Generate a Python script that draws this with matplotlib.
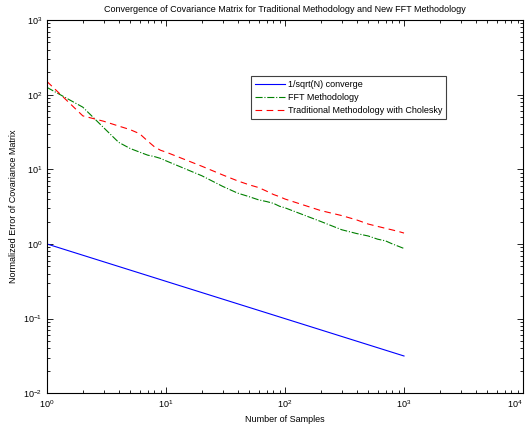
import matplotlib
matplotlib.use("Agg")
import matplotlib.pyplot as plt
from matplotlib.ticker import LogLocator, NullFormatter

plt.rcParams['font.family'] = ['Liberation Sans', 'DejaVu Sans']
plt.rcParams['mathtext.fontset'] = 'custom'
plt.rcParams['mathtext.rm'] = 'Liberation Sans'
plt.rcParams['mathtext.it'] = 'Liberation Sans'
plt.rcParams['mathtext.bf'] = 'Liberation Sans'

# Data
n_ref = [1, 10, 100, 1000]
ref_vals = [1.0, 0.316, 0.1, 0.0316]

n_samples = [1, 2, 3, 4, 5, 6, 7, 8, 9, 10,
             20, 30, 40, 50, 60, 70, 80, 90, 100,
             200, 300, 400, 500, 600, 700, 800, 900, 1000]
fft_err = [125, 68, 36, 23, 19, 17, 15.5, 14.8, 14, 13,
           8.2, 5.9, 4.8, 4.3, 3.9, 3.7, 3.5, 3.2, 3.05,
           2.0, 1.55, 1.38, 1.28, 1.16, 1.1, 1.0, 0.93, 0.87]
trad_err = [150, 52, 44, 38, 34, 30, 24, 20, 18, 17,
            11, 8.4, 7.0, 6.2, 5.7, 5.1, 4.6, 4.3, 4.0,
            2.8, 2.4, 2.1, 1.85, 1.72, 1.62, 1.54, 1.47, 1.4]

labels = ['1/sqrt(N) converge', 'FFT Methodology',
          'Traditional Methodology with Cholesky']

FS = 6.5

fig = plt.figure(figsize=(5.28, 4.28), dpi=100)
ax = fig.add_axes([47/528, 1 - 393.3/428, 476/528, 373.3/428])

ax.loglog(n_ref, ref_vals, color=(0, 0, 1), lw=0.8, linestyle='-', label=labels[0])
ax.loglog(n_samples, fft_err, color=(0, 0.5, 0), lw=0.8, linestyle='-.', label=labels[1])
ax.loglog(n_samples, trad_err, color=(1, 0, 0), lw=0.8, linestyle=(0, (6, 4)), label=labels[2])

ax.set_xlim(1, 1e4)
ax.set_ylim(1e-2, 1e3)
ax.xaxis.set_major_locator(LogLocator(base=10, numticks=10))
ax.yaxis.set_major_locator(LogLocator(base=10, numticks=10))
ax.xaxis.set_minor_locator(LogLocator(base=10, subs=range(2, 10), numticks=20))
ax.yaxis.set_minor_locator(LogLocator(base=10, subs=range(2, 10), numticks=20))
ax.xaxis.set_minor_formatter(NullFormatter())
ax.yaxis.set_minor_formatter(NullFormatter())

ax.tick_params(which='both', direction='in', top=True, right=True, labelsize=FS, colors='black')
ax.tick_params(which='major', length=4, width=0.6)
ax.tick_params(which='minor', length=2, width=0.6)
for s in ax.spines.values():
    s.set_linewidth(0.8)

ax.set_title('Convergence of Covariance Matrix for Traditional Methodology and New FFT Methodology',
             fontsize=FS, pad=6)
ax.set_xlabel('Number of Samples', fontsize=FS, labelpad=4)
ax.set_ylabel('Normalized Error of Covariance Matrix', fontsize=FS, labelpad=4)

leg = ax.legend(loc='upper left', bbox_to_anchor=(0.4286, 0.85), fontsize=FS,
                fancybox=False, framealpha=1, edgecolor='#404040',
                handlelength=3.3, handletextpad=0.3, borderpad=0.45,
                labelspacing=0.45, borderaxespad=0.0)
leg.get_frame().set_linewidth(0.8)

fig.canvas.draw()
for t in ax.xaxis.get_major_ticks():
    if abs(t.get_loc() - 1e4) < 1:
        t.label1.set_horizontalalignment('right')
        t.label1.set_x(1e4)

fig.savefig('out.png', dpi=100)
